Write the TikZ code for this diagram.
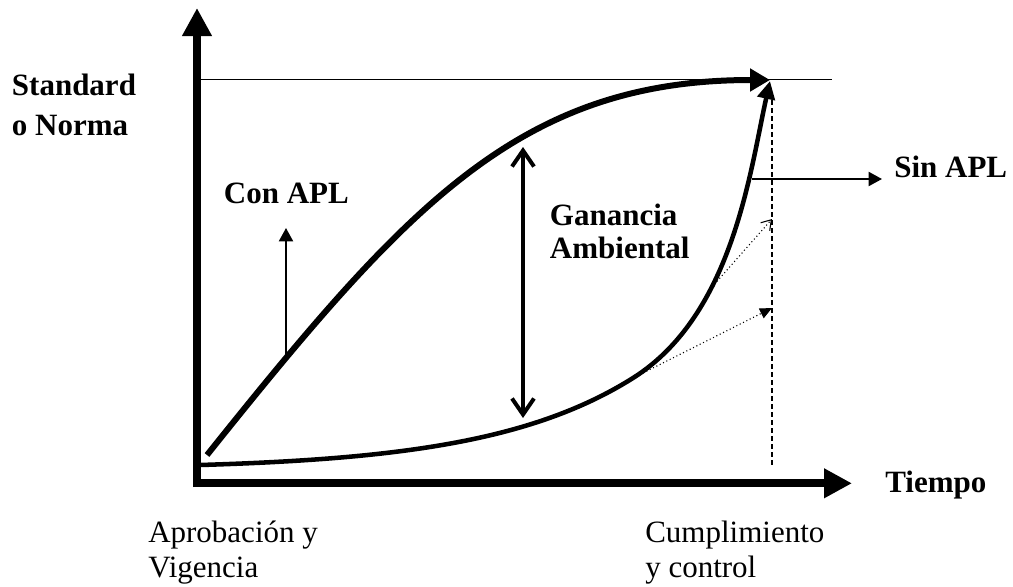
\documentclass[tikz,border=0pt]{standalone}
\usepackage{fontspec}
\setmainfont{Liberation Serif}
\usetikzlibrary{arrows.meta}

\tikzset{
    lbl/.style={inner sep=0pt, anchor=base west, align=left, font=\fontsize{23.25}{26.25}\selectfont},
    blbl/.style={lbl, font=\fontsize{23.25}{24.75}\selectfont\bfseries},
    axisline/.style={line width=6pt, -{Triangle[length=21pt,width=21pt]}},
    thinarrow/.style={line width=1.5pt, -{Triangle[length=10pt,width=10.5pt]}},
    hintarrow/.style={line width=0.8pt, dotted}
}

\begin{document}
\begin{tikzpicture}[x=0.75pt,y=-0.75pt]
    \useasboundingbox (0,0) rectangle (1013,586);
    \coordinate (O1) at (197,487);
    \coordinate (O2) at (193,483.3);
    \coordinate (Y) at (197,8);
    \coordinate (X) at (852,483.3);
    \coordinate (N1) at (200,79.5);
    \coordinate (N2) at (832,79.5);
    \coordinate (D1) at (771.7,100);
    \coordinate (D2) at (771.7,467);
    \coordinate (G1) at (523,147);
    \coordinate (G2) at (523,418);
    \coordinate (C1) at (286,357);
    \coordinate (C2) at (286,228);
    \coordinate (S1) at (752,179);
    \coordinate (S2) at (882,179);
    \coordinate (P1) at (712,287);
    \coordinate (P2) at (772,219);
    \coordinate (Q1) at (633,378);
    \coordinate (Q2) at (772,308);
    \coordinate (U0) at (207,455);
    \coordinate (U1) at (770,80);
    \coordinate (L0) at (200,465);
    \coordinate (L1) at (633,378);
    \coordinate (L2) at (770,81);

    \draw[line width=1.2pt] (N1) -- (N2); % norma
    \draw[line width=1.5pt, dash pattern=on 3.75pt off 2.25pt] (D1) -- (D2); % plazo

    \draw[line width=4.5pt, -{Triangle[length=15pt,width=16.5pt]}] (U0) .. controls (407,205) and (520,80) .. (U1); % con APL
    \draw[line width=3.4pt, -{Triangle[length=13.5pt,width=13pt]}] (L0) .. controls (400,459) and (533,441) .. (L1)
        .. controls (733,315) and (750,171) .. (L2); % sin APL

    \draw[axisline] (O1) -- (Y); % vertical
    \draw[axisline] (O2) -- (X); % horizontal

    \draw[line width=3pt, {Straight Barb[length=12pt,width=16.5pt]}-{Straight Barb[length=12pt,width=16.5pt]}] (G2) -- (G1);
    \draw[thinarrow] (C1) -- (C2);
    \draw[thinarrow] (S1) -- (S2);
    \draw[hintarrow, -{Straight Barb[length=7pt,width=9pt]}] (P1) -- (P2);
    \draw[hintarrow, -{Triangle[length=9pt,width=8pt]}] (Q1) -- (Q2);

    \node[blbl, font=\fontsize{23.25}{30}\selectfont\bfseries] (norma) at (11.7,135) {Standard\\o Norma};
    \node[blbl] (con) at (223.7,203.3) {Con APL};
    \node[blbl] (gan) at (549.7,258.3) {Ganancia\\Ambiental};
    \node[blbl] (sin) at (894,177.3) {Sin APL};
    \node[blbl] (tiempo) at (885,492.7) {Tiempo};
    \node[lbl] (aprob) at (148,577) {Aprobación y\\Vigencia};
    \node[lbl] (cumpl) at (645,577) {Cumplimiento\\y control};
\end{tikzpicture}
\end{document}
